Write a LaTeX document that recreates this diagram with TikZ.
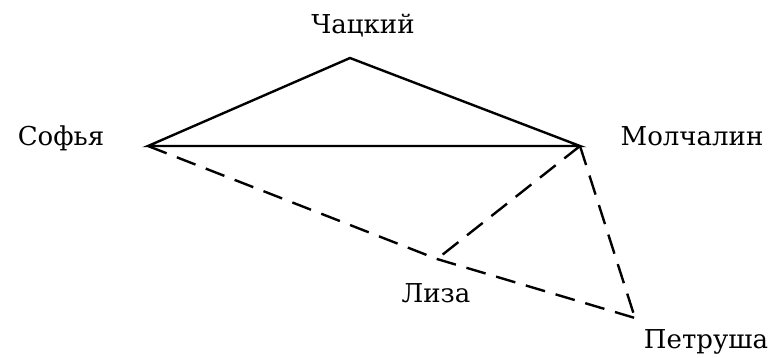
\documentclass[tikz,border=0pt]{standalone}
\usepackage{fontspec}
\setmainfont{DejaVu Serif}
\usetikzlibrary{positioning}
\tikzset{
  person/.style = {font=\fontsize{26}{30}\selectfont, anchor=base, inner sep=0pt},
  tie/.style    = {line width=2.4pt, line join=miter},
  weak/.style   = {line width=2.4pt, dash pattern=on 20pt off 11pt},
}
\begin{document}
\begin{tikzpicture}[x=1pt,y=-1pt]
  \useasboundingbox (0,0) rectangle (776,357);
  % vertices
  \coordinate (chatsky)   at (350,58);
  \coordinate (sofya)     at (148,146);
  \coordinate (molchalin) at (580,146);
  \coordinate (liza)      at (437,259);
  \coordinate (petrusha)  at (635,318);
  % names
  \node[person] (lchatsky)   at (363,33)  {Чацкий};
  \node[person] (lsofya)     at (61,145)  {Софья};
  \node[person] (lmolchalin) at (692,145) {Молчалин};
  \node[person] (lliza)      at (436,302) {Лиза};
  \node[person] (lpetrusha)  at (706,348) {Петруша};
  % solid ties
  \draw[tie] (sofya) -- (chatsky) -- (molchalin) -- cycle;
  % dashed ties
  \draw[weak] (sofya) -- (liza) -- (petrusha);
  \draw[weak] (molchalin) -- (liza);
  \draw[weak] (molchalin) -- (petrusha);
\end{tikzpicture}
\end{document}
